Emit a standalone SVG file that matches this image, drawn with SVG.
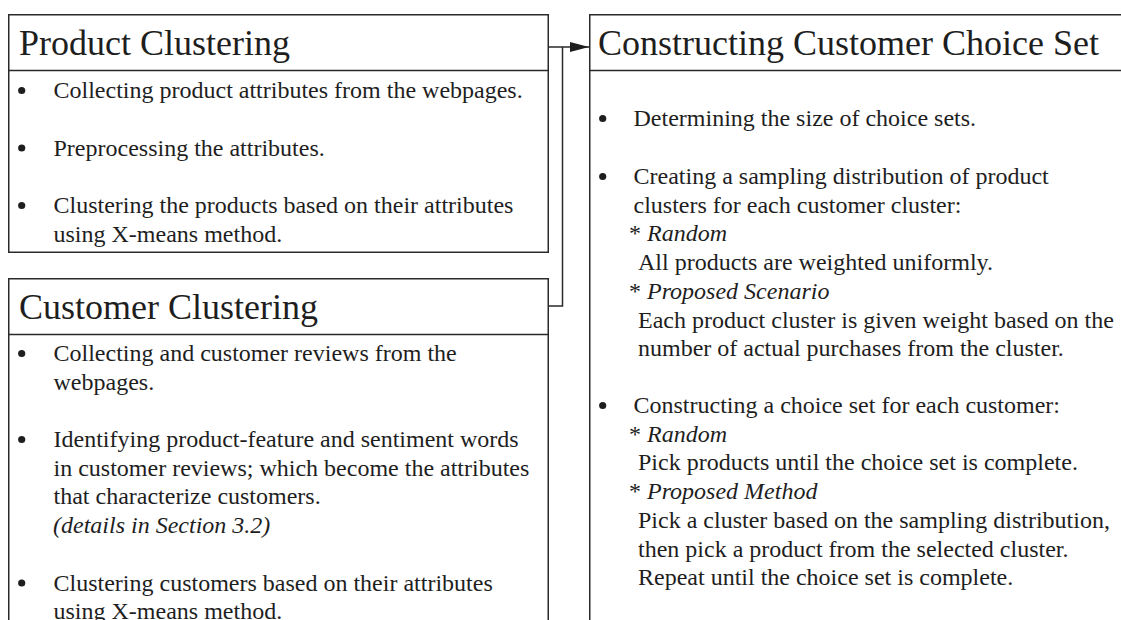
<svg xmlns="http://www.w3.org/2000/svg" width="1121" height="620" viewBox="0 0 1121 620">
  <style>
    .box { fill: #ffffff; stroke: #2a2a2a; stroke-width: 1.5; }
    .rule { stroke: #2a2a2a; stroke-width: 1.5; fill: none; }
    .title { font-family: "Liberation Serif", "Times New Roman", serif; font-size: 36px; fill: #1e1e1e; }
    .body { font-family: "Liberation Serif", "Times New Roman", serif; font-size: 24px; fill: #1e1e1e; }
    .it { font-style: italic; }
    .dot { fill: #1e1e1e; }
    .conn { stroke: #2a2a2a; stroke-width: 1.5; fill: none; }
  </style>
  <defs>
    <marker id="arrow" viewBox="0 0 10 10" refX="10" refY="5" markerWidth="19" markerHeight="10" markerUnits="userSpaceOnUse" orient="auto" preserveAspectRatio="none">
      <path d="M0,0 L10,5 L0,10 Z" fill="#1e1e1e"/>
    </marker>
  </defs>

  <rect width="1121" height="620" fill="#ffffff"/>

  <!-- Product clustering stage -->
  <g id="product-clustering">
    <rect class="box" x="8.75" y="14.75" width="539.5" height="237.5"/>
    <line class="rule" x1="8.75" y1="70.5" x2="548.25" y2="70.5"/>
    <text class="title" x="19" y="54.5">Product Clustering</text>
    <circle class="dot" cx="21.7" cy="90.5" r="3.6"/>
    <text class="body" x="53.5" y="98">Collecting product attributes from the webpages.</text>
    <circle class="dot" cx="21.7" cy="148" r="3.6"/>
    <text class="body" x="53.5" y="155.5">Preprocessing the attributes.</text>
    <circle class="dot" cx="21.7" cy="205.5" r="3.6"/>
    <text class="body" x="53.5" y="213">Clustering the products based on their attributes</text>
    <text class="body" x="53.5" y="241.5">using X-means method.</text>
  </g>

  <!-- Customer clustering stage (runs past the lower edge) -->
  <g id="customer-clustering">
    <path class="box" d="M8.75,640 L8.75,278.75 L548.25,278.75 L548.25,640"/>
    <line class="rule" x1="8.75" y1="334.5" x2="548.25" y2="334.5"/>
    <text class="title" x="19" y="318.5">Customer Clustering</text>
    <circle class="dot" cx="21.7" cy="353.5" r="3.6"/>
    <text class="body" x="53.5" y="361">Collecting and customer reviews from the</text>
    <text class="body" x="53.5" y="389.7">webpages.</text>
    <circle class="dot" cx="21.7" cy="439.5" r="3.6"/>
    <text class="body" x="53.5" y="447">Identifying product-feature and sentiment words</text>
    <text class="body" x="53.5" y="475.7">in customer reviews; which become the attributes</text>
    <text class="body" x="53.5" y="504.4">that characterize customers.</text>
    <text class="body it" x="53" y="533">(details in Section 3.2)</text>
    <circle class="dot" cx="21.7" cy="583" r="3.6"/>
    <text class="body" x="53.5" y="590.5">Clustering customers based on their attributes</text>
    <text class="body" x="53.5" y="619">using X-means method.</text>
  </g>

  <!-- Choice set construction stage (runs past the right and lower edges) -->
  <g id="choice-set">
    <path class="box" d="M1140,14.75 L589.75,14.75 L589.75,640"/>
    <line class="rule" x1="589.75" y1="70.5" x2="1140" y2="70.5"/>
    <text class="title" x="598" y="54.5">Constructing Customer Choice Set</text>

    <circle class="dot" cx="602.7" cy="118.5" r="3.6"/>
    <text class="body" x="633.5" y="126">Determining the size of choice sets.</text>

    <circle class="dot" cx="602.7" cy="176.5" r="3.6"/>
    <text class="body" x="633.5" y="184">Creating a sampling distribution of product</text>
    <text class="body" x="633.5" y="212.7">clusters for each customer cluster:</text>
    <text class="body" x="629" y="241.4">* <tspan class="it">Random</tspan></text>
    <text class="body" x="638" y="270.1">All products are weighted uniformly.</text>
    <text class="body" x="629" y="298.8">* <tspan class="it">Proposed Scenario</tspan></text>
    <text class="body" x="638" y="327.5">Each product cluster is given weight based on the</text>
    <text class="body" x="638" y="356.2">number of actual purchases from the cluster.</text>

    <circle class="dot" cx="602.7" cy="405.5" r="3.6"/>
    <text class="body" x="633.5" y="413">Constructing a choice set for each customer:</text>
    <text class="body" x="629" y="441.7">* <tspan class="it">Random</tspan></text>
    <text class="body" x="638" y="470.4">Pick products until the choice set is complete.</text>
    <text class="body" x="629" y="499.1">* <tspan class="it">Proposed Method</tspan></text>
    <text class="body" x="638" y="527.8">Pick a cluster based on the sampling distribution,</text>
    <text class="body" x="638" y="556.5">then pick a product from the selected cluster.</text>
    <text class="body" x="638" y="585.2">Repeat until the choice set is complete.</text>
  </g>

  <!-- Both clustering outputs feed the choice set stage -->
  <g id="connectors">
    <path class="conn" d="M548.25,47 L589,47" marker-end="url(#arrow)"/>
    <path class="conn" d="M548.25,306 L562.5,306 L562.5,47"/>
  </g>
</svg>
